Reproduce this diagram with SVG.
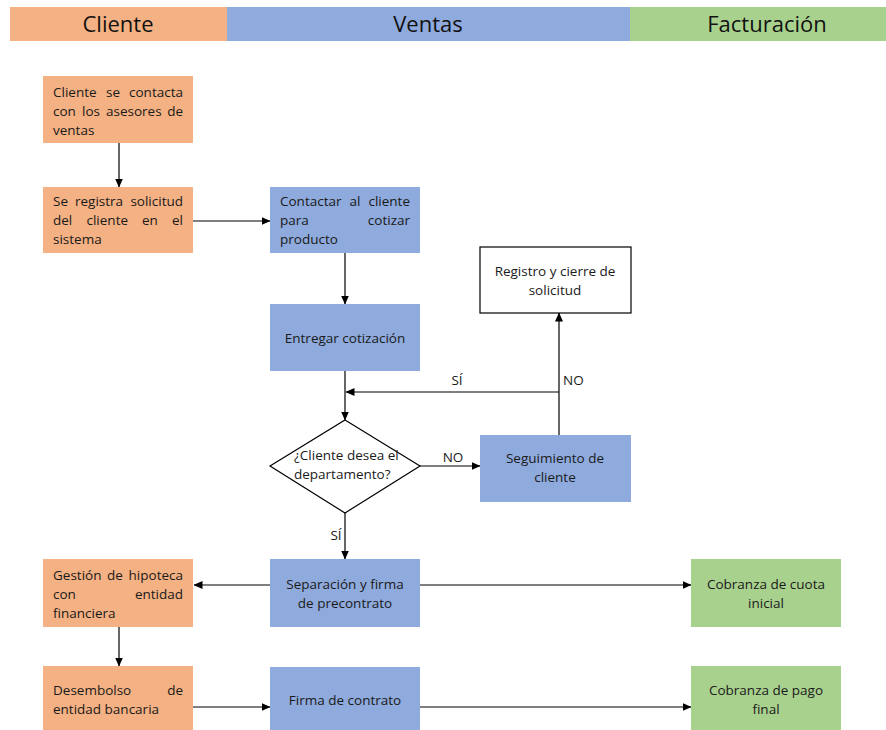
<svg xmlns="http://www.w3.org/2000/svg" width="886" height="730" viewBox="0 0 886 730">
<defs>
<marker id="ah" markerWidth="9" markerHeight="8" refX="8.5" refY="4" orient="auto" markerUnits="userSpaceOnUse">
<path d="M0,0 L9,4 L0,8 Z" fill="#000"/>
</marker>
<style>
.hdr{font-family:"Open Sans","Liberation Sans",sans-serif;font-size:22px;fill:#111;text-anchor:middle}
.t{font-family:"Open Sans","Liberation Sans",sans-serif;font-size:13.5px;fill:#1a1a1a}
.c{text-anchor:middle}
.or{fill:#F4B183}
.bl{fill:#8FAADC}
.gr{fill:#A9D18E}
.wh{fill:#fff;stroke:#000;stroke-width:1.2}
.ar{fill:none;stroke:#000;stroke-width:1.2;marker-end:url(#ah)}
</style>
</defs>
<rect width="886" height="730" fill="#fff"/>
<g id="header">
<rect x="10" y="7" width="217" height="34" class="or"/>
<rect x="227" y="7" width="403" height="34" class="bl"/>
<rect x="630" y="7" width="256" height="34" class="gr"/>
<text x="118" y="32" class="hdr">Cliente</text>
<text x="428" y="32" class="hdr">Ventas</text>
<text x="767" y="32" class="hdr">Facturación</text>
</g>
<g id="connectors">
<line x1="119" y1="143" x2="119" y2="187" class="ar"/>
<line x1="193" y1="221" x2="270" y2="221" class="ar"/>
<line x1="345" y1="253" x2="345" y2="304" class="ar"/>
<line x1="345" y1="371" x2="345" y2="420" class="ar"/>
<line x1="420" y1="466" x2="480" y2="466" class="ar"/>
<line x1="559" y1="435" x2="559" y2="313" class="ar"/>
<line x1="559" y1="392" x2="346" y2="392" class="ar"/>
<line x1="345" y1="513" x2="345" y2="559" class="ar"/>
<line x1="270" y1="585" x2="194" y2="585" class="ar"/>
<line x1="420" y1="585" x2="691" y2="585" class="ar"/>
<line x1="119" y1="627" x2="119" y2="666" class="ar"/>
<line x1="193" y1="707" x2="270" y2="707" class="ar"/>
<line x1="420" y1="707" x2="691" y2="707" class="ar"/>
<text x="457" y="385" class="t c">SÍ</text>
<text x="563" y="385" class="t">NO</text>
<text x="453" y="462" class="t c">NO</text>
<text x="336" y="540" class="t c">SÍ</text>
</g>
<g id="n1">
<rect x="43" y="76" width="150" height="67" class="or"/>
<text y="97" class="t"><tspan x="53">Cliente</tspan><tspan x="106">se</tspan><tspan x="183" text-anchor="end">contacta</tspan></text>
<text y="116" class="t"><tspan x="53">con</tspan><tspan x="82">los</tspan><tspan x="106">asesores</tspan><tspan x="183" text-anchor="end">de</tspan></text>
<text y="135" class="t"><tspan x="53">ventas</tspan></text>
</g>
<g id="n2">
<rect x="43" y="187" width="150" height="66" class="or"/>
<text y="206" class="t"><tspan x="53">Se</tspan><tspan x="75">registra</tspan><tspan x="183" text-anchor="end">solicitud</tspan></text>
<text y="225" class="t"><tspan x="53">del</tspan><tspan x="86.5">cliente</tspan><tspan x="142">en</tspan><tspan x="183" text-anchor="end">el</tspan></text>
<text y="244" class="t"><tspan x="53">sistema</tspan></text>
</g>
<g id="n3">
<rect x="270" y="187" width="150" height="66" class="bl"/>
<text y="206" class="t"><tspan x="280">Contactar</tspan><tspan x="349.5">al</tspan><tspan x="410" text-anchor="end">cliente</tspan></text>
<text y="225" class="t"><tspan x="280">para</tspan><tspan x="410" text-anchor="end">cotizar</tspan></text>
<text y="244" class="t"><tspan x="280">producto</tspan></text>
</g>
<g id="n4">
<rect x="270" y="304" width="150" height="67" class="bl"/>
<text x="345" y="343" class="t c">Entregar cotización</text>
</g>
<g id="n5">
<rect x="480" y="247" width="151" height="66" class="wh"/>
<text x="555" y="276" class="t c">Registro y cierre de</text>
<text x="555" y="295" class="t c">solicitud</text>
</g>
<g id="n6">
<polygon points="345,420 420,466 345,513 270,466" class="wh"/>
<text x="294" y="460" class="t">¿Cliente desea el</text>
<text x="294" y="479" class="t">departamento?</text>
</g>
<g id="n7">
<rect x="480" y="435" width="151" height="67" class="bl"/>
<text x="555" y="463" class="t c">Seguimiento de</text>
<text x="555" y="482" class="t c">cliente</text>
</g>
<g id="n8">
<rect x="270" y="559" width="150" height="68" class="bl"/>
<text x="345" y="589" class="t c">Separación y firma</text>
<text x="345" y="608" class="t c">de precontrato</text>
</g>
<g id="n9">
<rect x="43" y="559" width="150" height="68" class="or"/>
<text y="580" class="t"><tspan x="53">Gestión</tspan><tspan x="107">de</tspan><tspan x="183" text-anchor="end">hipoteca</tspan></text>
<text y="599" class="t"><tspan x="53">con</tspan><tspan x="183" text-anchor="end">entidad</tspan></text>
<text y="618" class="t"><tspan x="53">financiera</tspan></text>
</g>
<g id="n10">
<rect x="691" y="559" width="150" height="68" class="gr"/>
<text x="766" y="589" class="t c">Cobranza de cuota</text>
<text x="766" y="608" class="t c">inicial</text>
</g>
<g id="n11">
<rect x="43" y="666" width="150" height="70" class="or"/>
<text y="695" class="t"><tspan x="53">Desembolso</tspan><tspan x="183" text-anchor="end">de</tspan></text>
<text y="714" class="t"><tspan x="53">entidad bancaria</tspan></text>
</g>
<g id="n12">
<rect x="270" y="667" width="150" height="70" class="bl"/>
<text x="345" y="705" class="t c">Firma de contrato</text>
</g>
<g id="n13">
<rect x="691" y="666" width="150" height="70" class="gr"/>
<text x="766" y="695" class="t c">Cobranza de pago</text>
<text x="766" y="714" class="t c">final</text>
</g>
</svg>
